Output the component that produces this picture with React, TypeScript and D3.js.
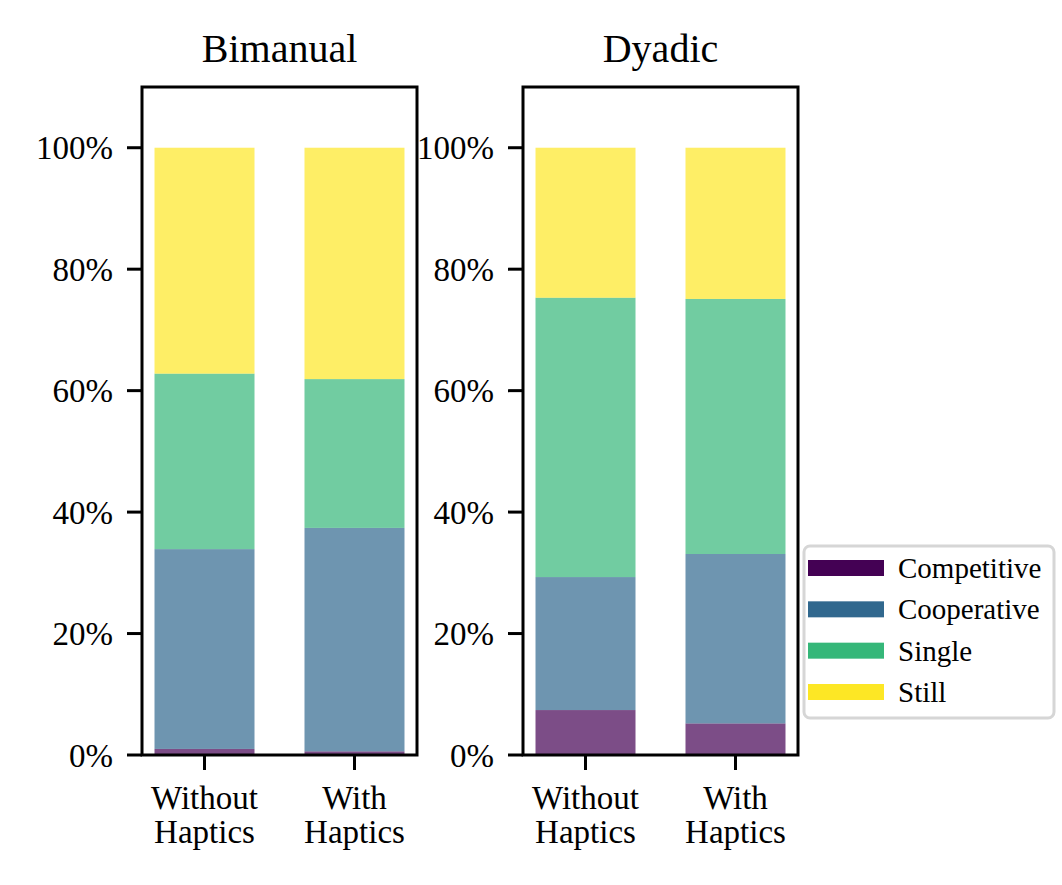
import React, { useEffect, useRef } from 'react';
import * as d3 from 'd3';

// stacked shares (%) per condition, order: Competitive, Cooperative, Single, Still
const categories = ['Competitive', 'Cooperative', 'Single', 'Still'];
const colors = ['#440154', '#31688e', '#35b779', '#fde725'];
const conditions = ['Without Haptics', 'With Haptics'];
const panels = ['Bimanual', 'Dyadic'];

const bimanualWithout = [1.0, 32.9, 28.9, 37.2];
const bimanualWith = [0.6, 36.8, 24.5, 38.1];
const dyadicWithout = [7.4, 21.9, 46.0, 24.7];
const dyadicWith = [5.2, 27.9, 42.0, 24.9];

const yTicks = [0, 20, 40, 60, 80, 100];

const FONT = '"Liberation Serif", "Times New Roman", serif';

const App: React.FC = () => {
  const svgRef = useRef<SVGSVGElement>(null);

  useEffect(() => {
    if (!svgRef.current) return;
    const svg = d3.select(svgRef.current);
    svg.selectAll('*').remove();

    const panelData = [
      [bimanualWithout, bimanualWith],
      [dyadicWithout, dyadicWith],
    ];
    const lefts = [142, 523];
    const axW = 275;
    const top = 87;
    const bottom = 755;

    const y = d3.scaleLinear().domain([0, 110]).range([bottom, top]);

    panelData.forEach((rows, pi) => {
      const x = d3.scaleLinear().domain([-0.4167, 1.4167]).range([lefts[pi], lefts[pi] + axW]);
      const g = svg.append('g').attr('font-family', FONT);
      const barW = x(1 / 3) - x(0);

      rows.forEach((vals, ci) => {
        let acc = 0;
        vals.forEach((v, k) => {
          g.append('rect')
            .attr('x', x(ci) - barW)
            .attr('width', barW * 2)
            .attr('y', y(acc + v))
            .attr('height', y(acc) - y(acc + v))
            .attr('fill', colors[k])
            .attr('fill-opacity', 0.7);
          acc += v;
        });
      });

      // frame
      g.append('rect')
        .attr('x', lefts[pi])
        .attr('y', top)
        .attr('width', axW)
        .attr('height', bottom - top)
        .attr('fill', 'none')
        .attr('stroke', '#000')
        .attr('stroke-width', 3);

      // y ticks
      yTicks.forEach(t => {
        g.append('line')
          .attr('x1', lefts[pi] - 15).attr('x2', lefts[pi])
          .attr('y1', y(t)).attr('y2', y(t))
          .attr('stroke', '#000').attr('stroke-width', 3);
        g.append('text')
          .attr('x', lefts[pi] - 29)
          .attr('y', y(t))
          .attr('dy', '0.35em')
          .attr('text-anchor', 'end')
          .attr('font-size', 33)
          .text(`${t}%`);
      });

      // x ticks
      conditions.forEach((c, ci) => {
        g.append('line')
          .attr('x1', x(ci)).attr('x2', x(ci))
          .attr('y1', bottom).attr('y2', bottom + 15)
          .attr('stroke', '#000').attr('stroke-width', 3);
        const words = c.split(' ');
        words.forEach((w, wi) => {
          g.append('text')
            .attr('x', x(ci))
            .attr('y', 809 + wi * 34)
            .attr('text-anchor', 'middle')
            .attr('font-size', 33)
            .text(w);
        });
      });

      g.append('text')
        .attr('x', lefts[pi] + axW / 2)
        .attr('y', 62)
        .attr('text-anchor', 'middle')
        .attr('font-size', 40)
        .text(panels[pi]);
    });

    // legend
    const lg = svg.append('g').attr('font-family', FONT);
    lg.append('rect')
      .attr('x', 804).attr('y', 546)
      .attr('width', 250).attr('height', 172)
      .attr('rx', 6)
      .attr('fill', '#fff')
      .attr('stroke', '#d6d6d6')
      .attr('stroke-width', 3);
    const row = d3.scaleLinear().domain([0, 3]).range([568, 692]);
    categories.forEach((c, i) => {
      lg.append('rect')
        .attr('x', 808).attr('y', row(i) - 8)
        .attr('width', 76).attr('height', 16)
        .attr('fill', colors[i]);
      lg.append('text')
        .attr('x', 898)
        .attr('y', row(i))
        .attr('dy', '0.35em')
        .attr('font-size', 29)
        .text(c);
    });
  }, []);

  return (
    <svg
      ref={svgRef}
      width={1062}
      height={885}
      style={{ position: 'absolute', left: 0, top: 0, background: '#fff' }}
    />
  );
};

export default App;
